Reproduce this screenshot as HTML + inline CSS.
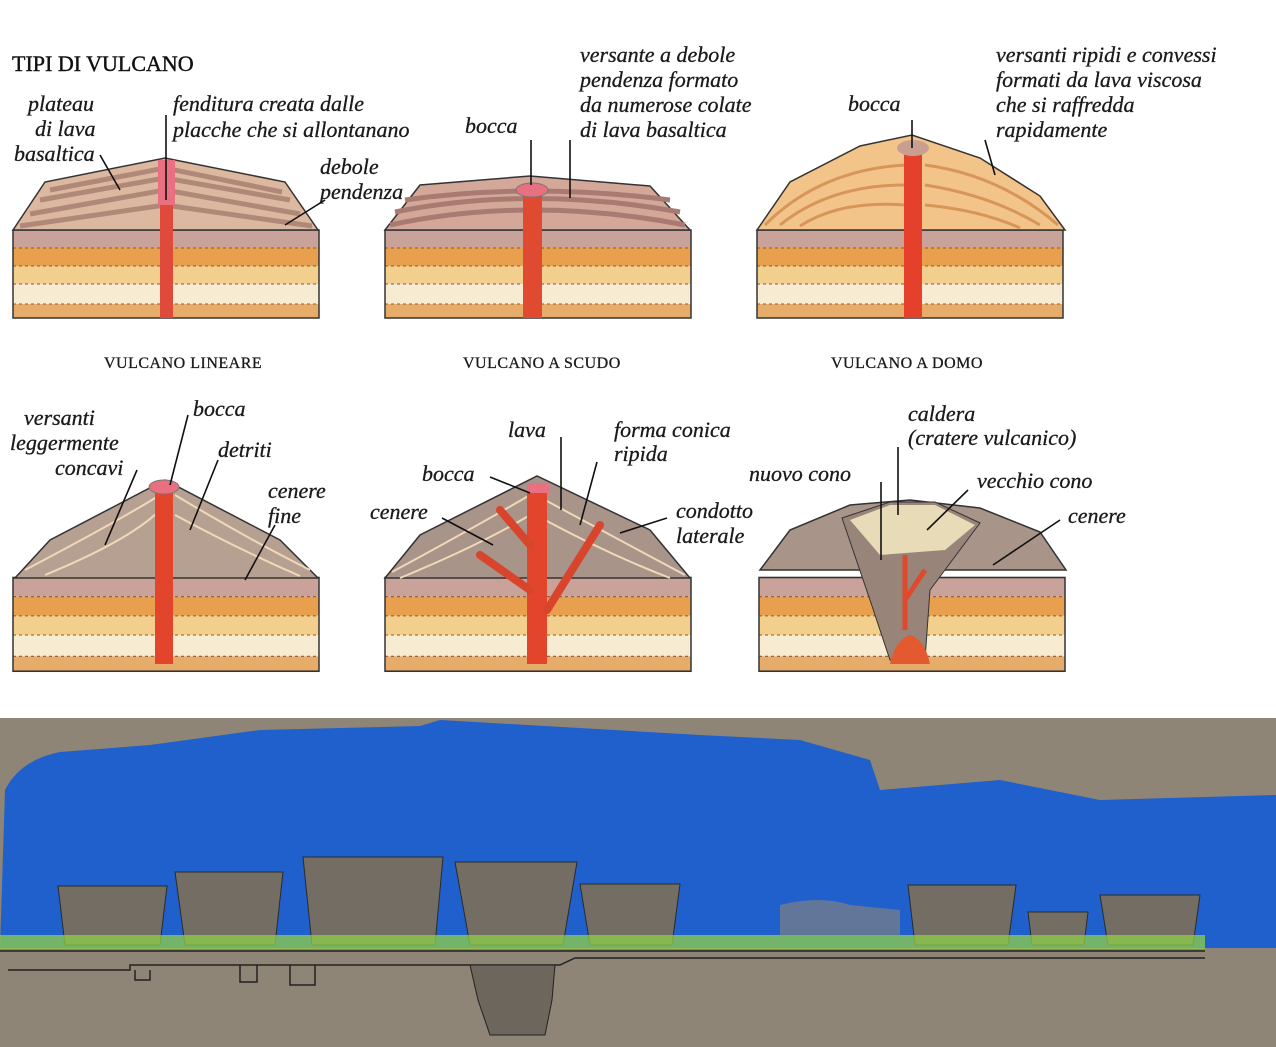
<!DOCTYPE html>
<html><head><meta charset="utf-8"><style>
html,body{margin:0;padding:0;background:#fff;}
svg{display:block;}
.t{font-family:"Liberation Serif",serif;font-style:italic;font-size:22px;fill:#1a1a1a;stroke:#1a1a1a;stroke-width:0.3;}
.c{font-family:"Liberation Serif",serif;font-size:16px;fill:#1a1a1a;letter-spacing:0.5px;stroke:#1a1a1a;stroke-width:0.3;}
.ln{stroke:#111;stroke-width:1.6;fill:none;}
</style></head><body>
<svg width="1276" height="1047" viewBox="0 0 1276 1047" xmlns="http://www.w3.org/2000/svg">
<defs>
<g id="bands1">
<rect x="0" y="0" width="306" height="18" fill="#c9a29a"/>
<rect x="0" y="18" width="306" height="18" fill="#e8a04e"/>
<rect x="0" y="36" width="306" height="18" fill="#f3cf8e"/>
<rect x="0" y="54" width="306" height="20" fill="#f7ecd2"/>
<rect x="0" y="74" width="306" height="14" fill="#e6ad6a"/>
<path d="M0 18H306M0 36H306M0 54H306M0 74H306" stroke="#8a5a3a" stroke-width="1" stroke-dasharray="3 3"/>
<rect x="0" y="0" width="306" height="88" fill="none" stroke="#333" stroke-width="1.5"/>
</g>
</defs>
<rect width="1276" height="670" fill="#fff"/>
<text x="12" y="71" style="font-family:'Liberation Serif',serif;font-size:22px;fill:#111;stroke:#111;stroke-width:0.4">TIPI DI VULCANO</text>

<!-- ROW 1 -->
<use href="#bands1" x="13" y="230"/>
<polygon points="13,230 45,182 165,158 285,182 318,230" fill="#dcb8a0" stroke="#333" stroke-width="1.5"/>
<path d="M20,226 L165,205 L312,226 M30,214 L165,190 L300,214 M40,200 L165,178 L290,200 M50,190 L165,168 L282,192" stroke="#b08878" stroke-width="5" fill="none"/>
<rect x="160" y="160" width="13" height="158" fill="#e04a3a"/>
<rect x="158" y="160" width="17" height="45" fill="#e87080"/>
<use href="#bands1" x="385" y="230"/>
<polygon points="385,230 420,185 530,176 650,186 690,230" fill="#d4a898" stroke="#333" stroke-width="1.5"/>
<path d="M390,225 Q530,195 685,225 M395,212 Q530,185 680,212 M405,200 Q530,182 670,200" stroke="#a87a72" stroke-width="5" fill="none"/>
<rect x="523" y="195" width="19" height="123" fill="#e04a30"/>
<ellipse cx="532" cy="190" rx="16" ry="7" fill="#e87080" stroke="#777"/>
<use href="#bands1" x="757" y="230"/>
<polygon points="757,230 790,182 860,146 912,135 980,158 1040,196 1065,230" fill="#f2c48a" stroke="#333" stroke-width="1.5"/>
<path d="M765,225 Q820,170 905,165 M780,225 Q830,185 905,185 M800,226 Q840,200 905,205 M925,165 Q1000,175 1058,225 M925,185 Q990,195 1040,225 M925,205 Q980,210 1020,228" stroke="#d8955a" stroke-width="3" fill="none"/>
<rect x="904" y="150" width="18" height="168" fill="#e5402c"/>
<ellipse cx="913" cy="148" rx="16" ry="8" fill="#c9a090"/>

<g class="t">
<text x="28" y="111">plateau</text><text x="35" y="136">di lava</text><text x="14" y="161">basaltica</text>
<text x="173" y="111">fenditura creata dalle</text><text x="173" y="137">placche che si allontanano</text>
<text x="320" y="174">debole</text><text x="320" y="199">pendenza</text>
<text x="465" y="133">bocca</text>
<text x="580" y="62">versante a debole</text><text x="580" y="87">pendenza formato</text><text x="580" y="112">da numerose colate</text><text x="580" y="137">di lava basaltica</text>
<text x="848" y="111">bocca</text>
<text x="996" y="62">versanti ripidi e convessi</text><text x="996" y="87">formati da lava viscosa</text><text x="996" y="112">che si raffredda</text><text x="996" y="137">rapidamente</text>
</g>
<path class="ln" d="M100,155 L120,190 M166,115 V200 M325,200 L285,225 M531,140 V185 M570,140 V198 M912,120 V148 M985,140 L995,175"/>
<g class="c">
<text x="104" y="368">VULCANO LINEARE</text>
<text x="463" y="368">VULCANO A SCUDO</text>
<text x="831" y="368">VULCANO A DOMO</text>
</g>

<!-- ROW 2 -->
<use href="#bands1" x="13" y="577" transform="translate(0,-37) scale(1,1.065)"/>
<polygon points="15,578 50,540 165,480 280,540 318,578" fill="#b6a092" stroke="#333" stroke-width="1.5"/>
<path d="M25,570 Q120,520 160,495 M45,575 Q130,540 160,510 M175,495 Q250,540 310,570 M175,515 Q240,550 300,576" stroke="#f0d8b8" stroke-width="2" fill="none"/>
<rect x="155" y="488" width="18" height="176" fill="#e2452c"/>
<ellipse cx="164" cy="487" rx="15" ry="7" fill="#e87080" stroke="#777"/>
<use href="#bands1" x="385" y="577" transform="translate(0,-37) scale(1,1.065)"/>
<polygon points="385,578 420,535 537,476 650,530 690,578" fill="#a89488" stroke="#333" stroke-width="1.5"/>
<path d="M392,572 Q470,530 530,495 M400,578 Q480,545 530,515 M545,500 Q620,540 685,575 M545,520 Q610,555 670,578" stroke="#f0d8b8" stroke-width="2" fill="none"/>
<rect x="527" y="490" width="20" height="174" fill="#e2452c"/>
<path d="M530,545 L500,510 M530,590 L480,555 M547,610 L600,525" stroke="#d8442c" stroke-width="8" fill="none" stroke-linecap="round"/>
<rect x="527" y="483" width="22" height="10" fill="#e87080"/>
<use href="#bands1" x="759" y="577" transform="translate(0,-37) scale(1,1.065)"/>
<polygon points="760,570 790,530 850,505 910,500 980,508 1040,532 1066,570" fill="#a89488" stroke="#333" stroke-width="1.5"/>
<polygon points="842,518 890,502 935,502 980,523 930,590 925,660 890,660 870,600" fill="#988478" stroke="#333"/>
<polygon points="850,520 890,505 935,505 975,525 945,550 880,555" fill="#e8dcb8"/>
<path d="M905,555 V630 M905,600 L925,570" stroke="#e04a2c" stroke-width="5" fill="none"/>
<path d="M890,664 Q895,640 910,635 Q925,640 930,664 Z" fill="#e35a30"/>
<g class="t">
<text x="24" y="425">versanti</text><text x="10" y="450">leggermente</text><text x="55" y="475">concavi</text>
<text x="193" y="416">bocca</text><text x="218" y="457">detriti</text>
<text x="268" y="498">cenere</text><text x="268" y="523">fine</text>
<text x="508" y="437">lava</text><text x="614" y="437">forma conica</text><text x="614" y="461">ripida</text>
<text x="422" y="481">bocca</text><text x="370" y="519">cenere</text>
<text x="676" y="518">condotto</text><text x="676" y="543">laterale</text>
<text x="908" y="421">caldera</text><text x="908" y="445">(cratere vulcanico)</text>
<text x="749" y="481">nuovo cono</text><text x="977" y="488">vecchio cono</text><text x="1068" y="523">cenere</text>
</g>
<path class="ln" d="M137,470 L105,545 M188,415 L170,485 M218,460 L190,530 M275,525 L245,580 M561,437 V510 M597,462 L580,525 M490,477 L530,493 M442,518 L493,545 M667,518 L620,533 M898,447 V515 M881,482 V560 M968,490 L927,530 M1060,520 L993,565"/>

<!-- BOTTOM -->
<rect x="0" y="718" width="1276" height="329" fill="#8e8576"/>
<path d="M5,790 Q20,760 60,752 L150,745 L260,730 L420,726 L440,720 L700,735 L800,740 L870,760 L880,790 L1000,780 L1100,800 L1276,795 L1276,948 L0,948 Z" fill="#2060cc"/>
<path d="M780,935 L780,905 Q820,895 850,905 L900,910 L900,935 Z" fill="#8e8576" opacity="0.6"/>
<g fill="#736d63" stroke="#2a2a2a" stroke-width="1">
<polygon points="58,886 167,886 160,945 65,945"/>
<polygon points="175,872 283,872 275,945 185,945"/>
<polygon points="303,857 443,857 435,945 312,945"/>
<polygon points="455,862 577,862 563,945 470,945"/>
<polygon points="580,884 680,884 672,945 590,945"/>
<polygon points="908,885 1016,885 1008,945 915,945"/>
<polygon points="1028,912 1088,912 1084,945 1032,945"/>
<polygon points="1100,895 1200,895 1193,945 1108,945"/>
</g>
<rect x="0" y="935" width="1205" height="14" fill="#8fd04a" opacity="0.75"/>
<path d="M0,951 H1205 M8,970 H130 L130,965 H560 L575,958 H1205" stroke="#222" stroke-width="1.5" fill="none"/>
<path d="M470,965 L478,1000 L490,1035 L545,1035 L552,1000 L555,965 Z" fill="#6c665d" stroke="#222"/>
<path d="M135,970 V980 H150 V970 M240,965 V982 H257 V965 M290,965 V985 H315 V965" stroke="#222" stroke-width="1.5" fill="none"/>
</svg>
</body></html>
